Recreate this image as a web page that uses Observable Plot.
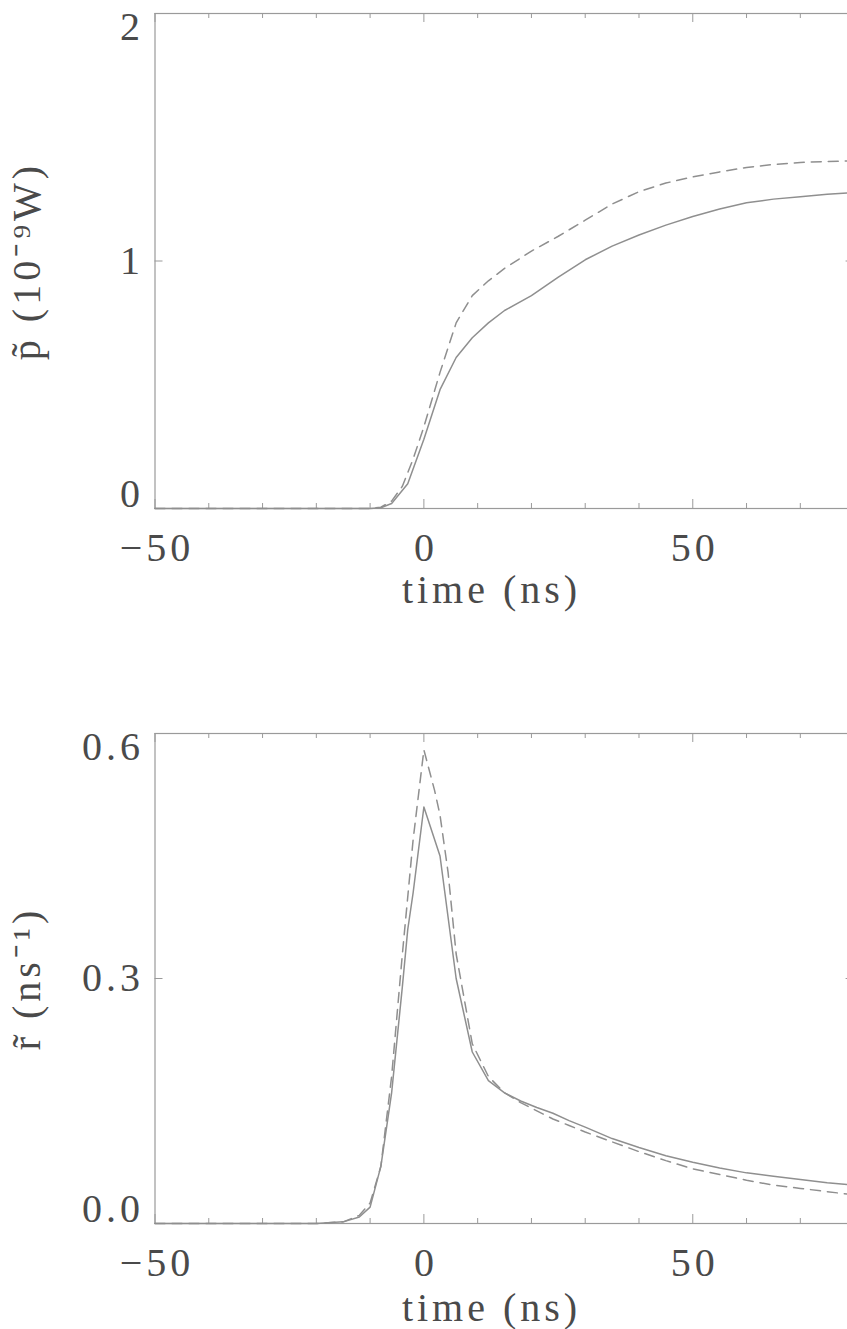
<!DOCTYPE html>
<html>
<head>
<meta charset="utf-8">
<script src="https://cdn.jsdelivr.net/npm/d3@7"></script>
<script src="https://cdn.jsdelivr.net/npm/@observablehq/plot@0.6"></script>
<style>
  html, body { margin: 0; padding: 0; background: #fff; overflow: hidden; }
  #wrap { width: 847px; height: 1329px; overflow: hidden; }
  #wrap svg { display: block; max-width: none !important; width: 900px; }
</style>
</head>
<body>
<div id="wrap"></div>
<script>
// ---- data ----
const xMajorTicks = [-50, 0, 50];
const xMinorTicks = [-40, -30, -20, -10, 10, 20, 30, 40, 60, 70, 80];
const xLabel = "time (ns)";

// top panel: p~ (10^-9 W)
const pTime   = [-50, -20, -10, -8, -6, -3, 0, 3, 6, 9, 12, 15, 20, 25, 30, 35, 40, 45, 50, 55, 60, 65, 70, 75, 80];
const pSolid  = [0, 0, 0, 0.003, 0.02, 0.10, 0.28, 0.48, 0.61, 0.69, 0.75, 0.80, 0.86, 0.935, 1.005, 1.06, 1.105, 1.145, 1.18, 1.21, 1.235, 1.25, 1.26, 1.27, 1.277];
const pTimeD  = [-50, -20, -10, -8, -6, -4, -2, 0, 3, 6, 9, 12, 15, 20, 25, 30, 35, 40, 45, 50, 55, 60, 65, 70, 75, 80];
const pDashed = [0, 0, 0, 0.005, 0.03, 0.09, 0.20, 0.33, 0.55, 0.75, 0.86, 0.92, 0.97, 1.04, 1.10, 1.165, 1.23, 1.28, 1.315, 1.34, 1.36, 1.378, 1.39, 1.398, 1.402, 1.405];
const pTicks = [0, 1, 2];
const pLabel = "p\u0303 (10\u207B\u2079W)";

// bottom panel: r~ (ns^-1)
const rTime   = [-50, -20, -15, -12, -10, -8, -6, -4, -3, -2, 0, 3, 6, 9, 12, 15, 18, 21, 24, 27, 30, 35, 40, 45, 50, 55, 60, 65, 70, 75, 80];
const rSolid  = [0, 0, 0.002, 0.008, 0.02, 0.07, 0.16, 0.29, 0.36, 0.405, 0.51, 0.45, 0.30, 0.21, 0.175, 0.16, 0.15, 0.142, 0.135, 0.126, 0.118, 0.104, 0.093, 0.083, 0.075, 0.068, 0.062, 0.058, 0.054, 0.05, 0.047];
const rTimeD  = [-50, -20, -15, -12, -10, -8, -6, -4, -2, 0, 2, 3, 4.5, 6, 9, 12, 15, 18, 21, 24, 27, 30, 35, 40, 45, 50, 55, 60, 65, 70, 75, 80];
const rDashed = [0, 0, 0.002, 0.01, 0.025, 0.07, 0.18, 0.33, 0.47, 0.58, 0.53, 0.50, 0.43, 0.33, 0.22, 0.18, 0.16, 0.148, 0.138, 0.128, 0.12, 0.112, 0.10, 0.088, 0.077, 0.067, 0.06, 0.053, 0.047, 0.043, 0.039, 0.035];
const rTicks = [0, 0.3, 0.6];
const rLabel = "r\u0303 (ns\u207B\u00B9)";

// ---- layout ----
const W = 900, ML = 154.5, MR = 46.4;
const lineCol = "#8f8f8f", frameCol = "#9a9a9a", textCol = "#4a4a4a";

function panel({height, mt, mb, yDomain, ticks, fmt, tS, yS, tD, yD, ylabel, xlabDy}) {
  const ph = height - mt - mb, pw = W - ML - MR;
  const solid = tS.map((t, i) => ({t, v: yS[i]}));
  const dashed = tD.map((t, i) => ({t, v: yD[i]}));
  const yAxis = (tk, dy) => Plot.axisY({ticks: [tk], anchor: "left", label: null, tickSize: 0, tickPadding: 11, tickFormat: fmt, dy, fill: textCol});
  return Plot.plot({
    width: W, height,
    marginLeft: ML, marginRight: MR, marginTop: mt, marginBottom: mb,
    style: {fontFamily: "Liberation Serif", fontSize: "40px", letterSpacing: "4px", background: "white", color: textCol, maxWidth: "none", overflow: "visible"},
    x: {domain: [-50, 80], axis: null, label: null},
    y: {domain: yDomain, axis: null, label: null},
    marks: [
      Plot.frame({stroke: frameCol, strokeWidth: 1.2}),
      // inward ticks, bottom & top
      Plot.tickX(xMajorTicks, {x: d => d, insetTop: ph - 9, stroke: frameCol}),
      Plot.tickX(xMinorTicks, {x: d => d, insetTop: ph - 5, stroke: frameCol}),
      Plot.tickX(xMajorTicks, {x: d => d, insetBottom: ph - 9, stroke: frameCol}),
      Plot.tickX(xMinorTicks, {x: d => d, insetBottom: ph - 5, stroke: frameCol}),
      // inward ticks, left & right
      Plot.tickY(ticks, {y: d => d, insetRight: pw - 8, stroke: frameCol}),
      Plot.tickY(ticks, {y: d => d, insetLeft: pw - 8, stroke: frameCol}),
      // x tick labels
      Plot.axisX({ticks: xMajorTicks, anchor: "bottom", label: null, tickSize: 0, tickPadding: 24, dx: 2, fill: textCol}),
      // y tick labels
      yAxis(ticks[0], -14),
      yAxis(ticks[1], 0),
      yAxis(ticks[2], 14),
      // curves
      Plot.line(dashed, {x: "t", y: "v", stroke: lineCol, strokeWidth: 1.5, strokeDasharray: "10,7"}),
      Plot.line(solid, {x: "t", y: "v", stroke: lineCol, strokeWidth: 1.5}),
      // axis titles
      Plot.text([xLabel], {text: d => d, frameAnchor: "bottom", textAnchor: "middle", dx: -13, dy: xlabDy, fill: textCol}),
      Plot.text([ylabel], {text: d => d, frameAnchor: "left", textAnchor: "middle", rotate: -90, dx: -128, fill: textCol})
    ]
  });
}

const wrap = document.getElementById("wrap");
wrap.append(panel({
  height: 640, mt: 13, mb: 132, yDomain: [0, 2], ticks: pTicks, fmt: d3.format("d"),
  tS: pTime, yS: pSolid, tD: pTimeD, yD: pDashed, ylabel: pLabel, xlabDy: 94
}));
wrap.append(panel({
  height: 689, mt: 93, mb: 106, yDomain: [0, 0.6], ticks: rTicks, fmt: d3.format(".1f"),
  tS: rTime, yS: rSolid, tD: rTimeD, yD: rDashed, ylabel: rLabel, xlabDy: 97
}));
</script>
</body>
</html>
